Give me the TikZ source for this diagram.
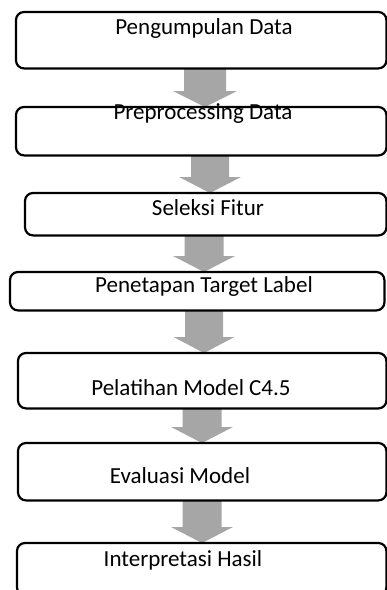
\documentclass[tikz,border=0pt]{standalone}
\usepackage{fontspec}
\setmainfont{Carlito}
\usetikzlibrary{calc}
\definecolor{flowgray}{HTML}{A6A6A6}
\tikzset{
  stagebox/.style={inner sep=0pt, anchor=north west},
  stageframe/.style={draw=black, line width=2.2pt, rounded corners=8pt},
  stagetext/.style={anchor=base, inner sep=0pt, font=\fontsize{23}{27}\selectfont},
}
% block arrow from the bottom of one stage to the top of the next
% #1 from, #2 to, #3 centre x, #4 shaft half width, #5 head half width
\newcommand\flowarrow[5]{%
  \fill[flowgray] let \p1=(#1.south), \p2=(#2.north) in
    ({(#3-#4)*1pt},\y1) -- ({(#3+#4)*1pt},\y1) -- ({(#3+#4)*1pt},\y2+16pt)
    -- ({(#3+#5)*1pt},\y2+16pt) -- ({#3*1pt},\y2) -- ({(#3-#5)*1pt},\y2+16pt)
    -- ({(#3-#4)*1pt},\y2+16pt) -- cycle;}
\begin{document}
\begin{tikzpicture}[x=1pt,y=-1pt]
\useasboundingbox (0,0) rectangle (387,590);
\begin{scope}
\clip (0,0) rectangle (387,590);
% stages
\path
  (16,12)  node[stagebox, minimum width=370pt, minimum height=56pt] (b1) {}
  (16,107) node[stagebox, minimum width=370pt, minimum height=48pt] (b2) {}
  (25,193) node[stagebox, minimum width=361pt, minimum height=42pt] (b3) {}
  (10,272) node[stagebox, minimum width=374pt, minimum height=38pt] (b4) {}
  (18,353) node[stagebox, minimum width=368pt, minimum height=55pt] (b5) {}
  (18,443) node[stagebox, minimum width=368pt, minimum height=57pt] (b6) {}
  (17,543) node[stagebox, minimum width=369pt, minimum height=52pt] (b7) {};
% arrows between stages
\flowarrow{b1}{b2}{205}{21}{32}
\flowarrow{b2}{b3}{210}{19}{31}
\flowarrow{b3}{b4}{204}{19.5}{31}
\flowarrow{b4}{b5}{204}{19}{30.5}
\flowarrow{b5}{b6}{202}{19.5}{31}
\flowarrow{b6}{b7}{202}{19.5}{31}
% frames drawn over the arrow ends
\foreach \b in {b1,b2,b3,b4,b5,b6,b7}
  \draw[stageframe] (\b.north west) rectangle (\b.south east);
% labels
\node[stagetext] (t1) at (204,34)  {Pengumpulan Data};
\node[stagetext] (t2) at (203,119) {Preprocessing Data};
\node[stagetext] (t3) at (208,215) {Seleksi Fitur};
\node[stagetext] (t4) at (204,292) {Penetapan Target Label};
\node[stagetext] (t5) at (191,395) {Pelatihan Model C4.5};
\node[stagetext] (t6) at (180,483) {Evaluasi Model};
\node[stagetext] (t7) at (183,566) {Interpretasi Hasil};
\end{scope}
\end{tikzpicture}
\end{document}
